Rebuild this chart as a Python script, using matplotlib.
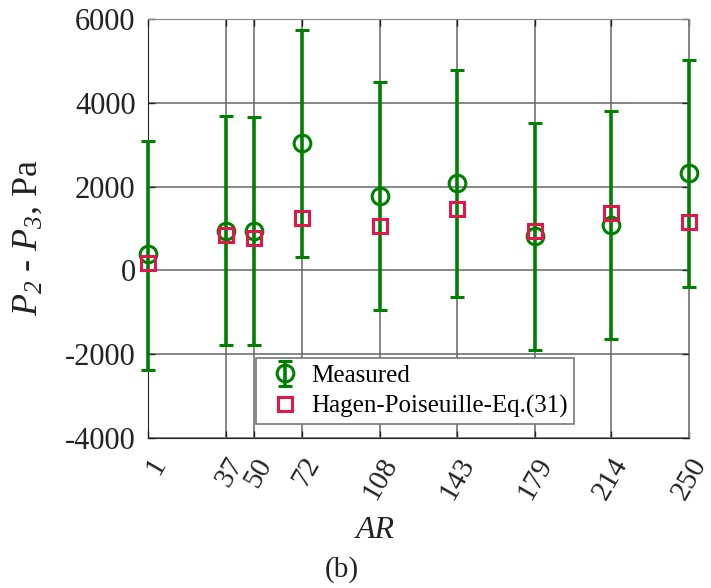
import matplotlib
matplotlib.use("Agg")
import matplotlib.pyplot as plt
import matplotlib.transforms as mtransforms
import numpy as np

# Aspect ratio of each channel
ar = [1, 37, 50, 72, 108, 143, 179, 214, 250]
ar_labels = ["1", "37", "50", "72", "108", "143", "179", "214", "250"]

# Measured pressure drop P2 - P3 (Pa) with error-bar bounds
measured = [380, 950, 945, 3030, 1770, 2090, 830, 1090, 2330]
measured_low = [-2370, -1770, -1780, 320, -945, -635, -1900, -1635, -400]
measured_high = [3080, 3675, 3650, 5745, 4485, 4785, 3525, 3795, 5030]

# Hagen-Poiseuille prediction, Eq. (31)
hagen = [175, 835, 780, 1255, 1070, 1475, 930, 1365, 1160]

plt.rcParams["font.family"] = ["Liberation Serif", "DejaVu Serif"]
plt.rcParams["mathtext.fontset"] = "custom"
plt.rcParams["mathtext.rm"] = "Liberation Serif:italic"
plt.rcParams["mathtext.it"] = "Liberation Serif:italic"
plt.rcParams["mathtext.default"] = "it"
plt.rcParams["axes.unicode_minus"] = False

fig = plt.figure(figsize=(7.11, 5.88), dpi=100)
ax = fig.add_axes([148 / 711, 1 - 438 / 588, (689 - 148) / 711, (438 - 19) / 588])

green = "#008000"
red = "#E0174A"
ink = "#222222"

y = np.array(measured)
yerr = [y - np.array(measured_low), np.array(measured_high) - y]
eb = ax.errorbar(ar, measured, yerr=yerr, fmt="o", color=green, ecolor=green,
                 mfc="none", mec=green, ms=12, mew=2.2, elinewidth=2.6,
                 capsize=5, capthick=3, label="Measured", zorder=3)
for artist in [eb[0], *eb[1], *eb[2]]:
    artist.set_clip_on(False)
sq, = ax.plot(ar, hagen, "s", mfc="none", mec=red, ms=10, mew=2.2,
              label="Hagen-Poiseuille-Eq.(31)", zorder=4, clip_on=False)

ax.set_xlim(1, 250)
ax.set_ylim(-4000, 6000)
ax.set_xticks(ar)
ax.set_xticklabels(ar_labels, rotation=60, ha="right", va="top",
                   rotation_mode="anchor", fontsize=21)
shift = mtransforms.ScaledTranslation(6 / 100, 0, fig.dpi_scale_trans)
for lab in ax.get_xticklabels():
    lab.set_transform(lab.get_transform() + shift)
ax.set_yticks(np.arange(-4000, 6001, 2000))
ax.tick_params(axis="both", direction="in", length=5, width=1,
               top=True, right=True, colors=ink, labelcolor=ink)
ax.tick_params(axis="y", pad=9, labelsize=22)
ax.tick_params(axis="x", pad=11)
ax.grid(True, color="#666666", linewidth=1.1)
ax.set_axisbelow(True)
for side in ["left", "bottom"]:
    ax.spines[side].set_color(ink)
for side in ["top", "right"]:
    ax.spines[side].set_color("#888888")

ax.set_ylabel(r"$P_{2}$ - $P_{3}$, Pa", fontsize=26, color=ink)
ax.yaxis.set_label_coords((45 - 148) / 541, 1 - (238 - 19) / 419)
fig.text(375 / 711, 1 - 530 / 588, "AR", style="italic", fontsize=23,
         ha="center", va="center", color=ink)
fig.text(342 / 711, 1 - 570 / 588, "(b)", fontsize=21, ha="center",
         va="center", color=ink)

leg = ax.legend(handles=[eb, sq], loc="lower left",
                bbox_to_anchor=((256 - 148) / 541, (438 - 424) / 419),
                fontsize=18, frameon=True, fancybox=False, framealpha=1,
                edgecolor="#777777", borderpad=0.25, labelspacing=0.3,
                handlelength=1.8, handletextpad=0.15, borderaxespad=0)
leg.get_frame().set_linewidth(1.2)

fig.savefig("out.png", dpi=100)
